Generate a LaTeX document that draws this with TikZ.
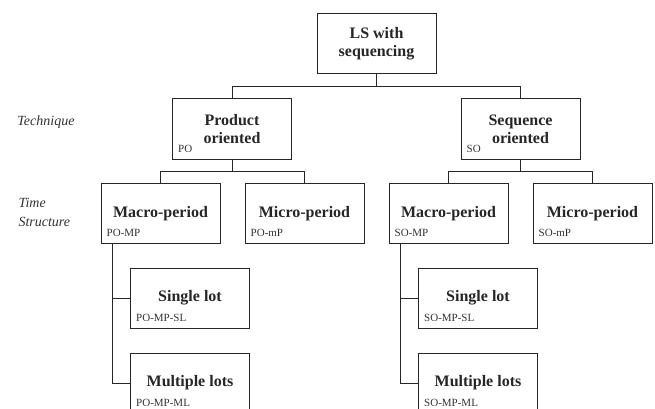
\documentclass[tikz,border=0pt]{standalone}
\usepackage{fontspec}
\setmainfont{Liberation Serif}
\usetikzlibrary{positioning}
\tikzset{
  lsbox/.style={draw=black!85, line width=1pt, minimum width=119pt, minimum height=60pt, inner sep=2pt, align=center, text=black!85, font=\fontsize{16}{18}\selectfont\bfseries},
  codetag/.style={anchor=south west, inner sep=1pt, text=black!80, font=\fontsize{11}{12}\selectfont},
  levelname/.style={align=left, text=black!80, font=\fontsize{14}{19}\selectfont\itshape},
  branch/.style={draw=black!85, line width=1pt}
}
\newcommand{\lsNode}[4]{%
  \node[lsbox] (#1) at (#2) {#3};
  \node[codetag] (#1-tag) at ([shift={(5pt,6pt)}]#1.south west) {#4};
}

\begin{document}
\begin{tikzpicture}[x=1pt,y=1pt]
\useasboundingbox (0,0) rectangle (655,-409);
\node[levelname] (technique) at (46,-122) {Technique};
\node[levelname, anchor=west] (timestruct) at (15,-212.5) {Time\\Structure};
\lsNode{root}{376.5,-44}{LS with\\sequencing}{}
\lsNode{po}{232,-129}{Product\\oriented}{PO}
\lsNode{so}{520.5,-129}{Sequence\\oriented}{SO}
\lsNode{pomp}{160.5,-213.5}{Macro-period}{PO-MP}
\lsNode{pomip}{304.5,-213.5}{Micro-period}{PO-mP}
\lsNode{somp}{448.5,-213.5}{Macro-period}{SO-MP}
\lsNode{somip}{592.5,-213.5}{Micro-period}{SO-mP}
\lsNode{posl}{190,-298}{Single lot}{PO-MP-SL}
\lsNode{poml}{190,-383}{Multiple lots}{PO-MP-ML}
\lsNode{sosl}{478,-298}{Single lot}{SO-MP-SL}
\lsNode{soml}{478,-383}{Multiple lots}{SO-MP-ML}
\draw[branch] (root.south) -- ++(0,-12) -| (po.north);
\draw[branch] (root.south) -- ++(0,-12) -| (so.north);
\draw[branch] (po.south) -- ++(0,-12) -| (pomp.north);
\draw[branch] (po.south) -- ++(0,-12) -| (pomip.north);
\draw[branch] (so.south) -- ++(0,-12) -| (somp.north);
\draw[branch] (so.south) -- ++(0,-12) -| (somip.north);
\draw[branch] ([xshift=12pt]pomp.south west) |- (posl.west);
\draw[branch] ([xshift=12pt]pomp.south west) |- (poml.west);
\draw[branch] ([xshift=12pt]somp.south west) |- (sosl.west);
\draw[branch] ([xshift=12pt]somp.south west) |- (soml.west);
\end{tikzpicture}
\end{document}
